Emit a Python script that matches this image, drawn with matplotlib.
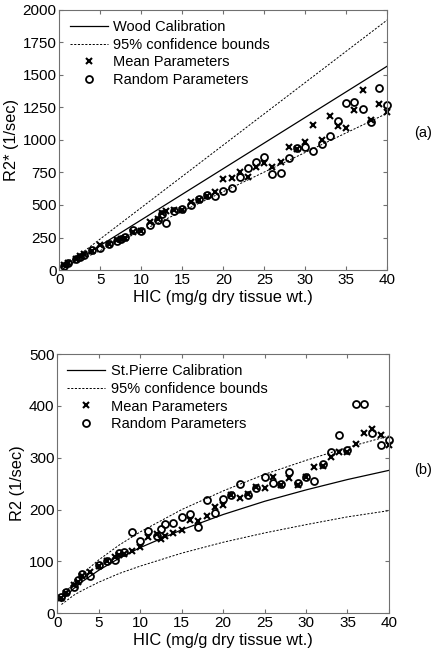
import numpy as np
import matplotlib
matplotlib.use("Agg")
import matplotlib.pyplot as plt

plt.rcParams['font.family'] = ['Liberation Sans', 'DejaVu Sans']

# HIC values shared by both panels
hic = [0.5, 1, 2, 2.5, 3, 4, 5, 6, 7, 7.5, 8, 9, 10, 11, 12, 12.5, 13, 14, 15,
       16, 17, 18, 19, 20, 21, 22, 23, 24, 25, 26, 27, 28, 29, 30, 31, 32, 33,
       34, 35, 36, 37, 38, 39, 40]

# panel (a): R2*
r2s_mean = [36, 52, 85, 105, 120, 150, 192, 200, 230, 240, 245, 290, 300, 370,
            390, 440, 450, 460, 460, 520, 540, 570, 600, 700, 705, 750, 718,
            795, 821, 795, 833, 949, 930, 987, 1115, 1000, 1184, 1107, 1090,
            1231, 1385, 1150, 1277, 1218]
r2s_rand = [33, 51, 87, 103, 115, 154, 167, 197, 226, 236, 256, 308, 300, 344,
            385, 428, 364, 454, 467, 503, 546, 574, 569, 608, 631, 713, 782,
            833, 871, 738, 748, 859, 935, 943, 917, 971, 1033, 1148, 1287,
            1294, 1238, 1140, 1397, 1269]
wood_x = [0.5, 40]
wood_y = [12, 1567]
wood_hi = [24, 1922]
wood_lo = [15, 1205]

# panel (b): R2
r2_mean = [30, 40, 55, 60, 72, 80, 92, 100, 108, 112, 115, 120, 128, 148, 152,
           143, 150, 155, 160, 180, 178, 188, 205, 208, 228, 222, 230, 244, 241,
           263, 248, 260, 248, 262, 283, 285, 302, 312, 312, 326, 348, 355,
           344, 324]
r2_rand = [32, 42, 51, 64, 76, 71, 94, 101, 102, 116, 118, 156, 139, 159, 150,
           162, 172, 175, 186, 192, 167, 219, 194, 220, 229, 249, 228, 241, 262,
           251, 249, 273, 251, 263, 256, 287, 312, 344, 315, 403, 403, 347,
           324, 334]
sp_x = [0.5, 1, 2, 3, 5, 7.5, 10, 15, 20, 25, 30, 35, 40]
sp_y = [23, 32.5, 48, 61, 83, 106.5, 126.7, 161, 190.5, 216, 238, 258, 275.7]
sp_hi = [30, 40, 60, 76, 103, 132, 157, 200, 236, 268, 295, 320, 342]
sp_lo = [17, 23, 35, 44, 60, 77, 91, 116, 137, 155, 171, 186, 198]

fig = plt.figure(figsize=(4.44, 6.57), dpi=100)
ax1 = fig.add_axes([0.134, 0.589, 0.738, 0.396])
ax2 = fig.add_axes([0.129, 0.0665, 0.747, 0.3946])

dash = (0, (2.2, 1.6))


def style(ax):
    for s in ax.spines.values():
        s.set_color('#707070')
        s.set_linewidth(0.8)
    ax.tick_params(direction='in', top=True, right=True, length=3,
                   color='#707070', labelsize=11, pad=2)


# top
ax1.plot(wood_x, wood_y, '-', color='k', lw=0.9, label='Wood Calibration')
ax1.plot(wood_x, wood_hi, linestyle=dash, color='k', lw=0.7,
         label='95% confidence bounds')
ax1.plot(wood_x, wood_lo, linestyle=dash, color='k', lw=0.7)
ax1.plot(hic, r2s_mean, 'x', color='k', ms=4.2, mew=1.5, clip_on=False,
         label='Mean Parameters')
ax1.plot(hic, r2s_rand, 'o', mfc='none', mec='k', ms=5, mew=1.3, clip_on=False,
         label='Random Parameters')
ax1.set_xlim(0, 40)
ax1.set_ylim(0, 2000)
ax1.set_xticks(np.arange(0, 41, 5))
ax1.set_yticks(np.arange(0, 2001, 250))
ax1.set_xlabel('HIC (mg/g dry tissue wt.)', fontsize=11.8, labelpad=2)
ax1.set_ylabel('R2* (1/sec)', fontsize=11.8, labelpad=3)
style(ax1)
ax1.legend(loc='upper left', frameon=False, fontsize=10.5, handlelength=2.6,
           handletextpad=0.4, labelspacing=0.25, borderaxespad=0.3)
fig.text(0.953, 0.797, '(a)', fontsize=10.5, ha='center', va='center')

# bottom
ax2.plot(sp_x, sp_y, '-', color='k', lw=0.9, label='St.Pierre Calibration')
ax2.plot(sp_x, sp_hi, linestyle=dash, color='k', lw=0.7,
         label='95% confidence bounds')
ax2.plot(sp_x, sp_lo, linestyle=dash, color='k', lw=0.7)
ax2.plot(hic, r2_mean, 'x', color='k', ms=4.2, mew=1.5, clip_on=False,
         label='Mean Parameters')
ax2.plot(hic, r2_rand, 'o', mfc='none', mec='k', ms=5, mew=1.3, clip_on=False,
         label='Random Parameters')
ax2.set_xlim(0, 40)
ax2.set_ylim(0, 500)
ax2.set_xticks(np.arange(0, 41, 5))
ax2.set_yticks(np.arange(0, 501, 100))
ax2.set_xlabel('HIC (mg/g dry tissue wt.)', fontsize=11.8, labelpad=2)
ax2.set_ylabel('R2 (1/sec)', fontsize=11.8, labelpad=3)
style(ax2)
ax2.legend(loc='upper left', frameon=False, fontsize=10.5, handlelength=2.6,
           handletextpad=0.4, labelspacing=0.25, borderaxespad=0.3)
fig.text(0.953, 0.285, '(b)', fontsize=10.5, ha='center', va='center')

fig.savefig('out.png', dpi=100)
